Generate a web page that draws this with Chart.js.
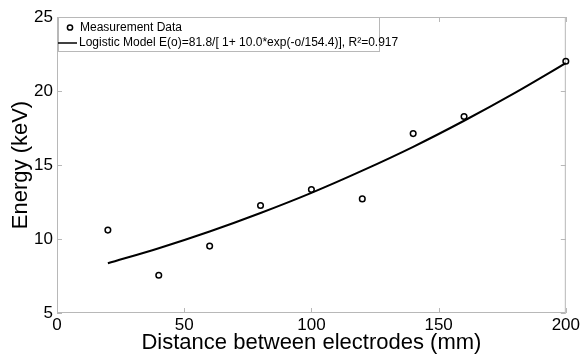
<!DOCTYPE html>
<html>
<head>
<meta charset="utf-8">
<script src="https://cdn.jsdelivr.net/npm/chart.js@4.4.1/dist/chart.umd.min.js"></script>
<style>
  html, body { margin: 0; padding: 0; background: #fff; }
</style>
</head>
<body>
<canvas id="myChart" width="582" height="356"></canvas>
<script>
// measured points
var distance = [20, 40, 60, 80, 100, 120, 140, 160, 200];
var energy = [10.60, 7.55, 9.52, 12.26, 13.34, 12.71, 17.12, 18.28, 22.01];

// fitted logistic curve
var modelDistance = [20, 40, 60, 80, 100, 120, 140, 160, 180, 200];
var modelEnergy = [8.36, 9.38, 10.51, 11.76, 13.12, 14.62, 16.23, 17.99, 19.87, 21.88];

var xTicks = [0, 50, 100, 150, 200];
var yTicks = [5, 10, 15, 20, 25];

var FONT = "'Liberation Sans', Arial, sans-serif";

function pairs(xs, ys) {
  var out = [];
  for (var i in xs) {
    out.push({ x: xs[i], y: ys[i] });
  }
  return out;
}

// box around the plot with small inward ticks
var framePlugin = {
  id: 'frame',
  beforeDatasetsDraw: function(chart) {
    var a = chart.chartArea;
    var ctx = chart.ctx;
    var xs = chart.scales.x, ys = chart.scales.y;
    ctx.save();
    ctx.strokeStyle = '#b8b8b8';
    ctx.lineWidth = 1;
    ctx.strokeRect(a.left + 0.5, a.top + 0.5, a.right - a.left - 1, a.bottom - a.top - 1);
    ctx.beginPath();
    xTicks.forEach(function(v) {
      var px = Math.round(xs.getPixelForValue(v)) + 0.5;
      ctx.moveTo(px, a.bottom); ctx.lineTo(px, a.bottom - 5);
      ctx.moveTo(px, a.top); ctx.lineTo(px, a.top + 5);
    });
    yTicks.forEach(function(v) {
      var py = Math.round(ys.getPixelForValue(v)) + 0.5;
      ctx.moveTo(a.left, py); ctx.lineTo(a.left + 5, py);
      ctx.moveTo(a.right, py); ctx.lineTo(a.right - 5, py);
    });
    ctx.stroke();
    ctx.restore();
  }
};

// legend box in the top left corner of the plot
var legendPlugin = {
  id: 'boxLegend',
  afterDraw: function(chart) {
    var ctx = chart.ctx;
    var a = chart.chartArea;
    var ds = chart.data.datasets;
    var left = a.left + 1, top = a.top, w = 321, h = 34;
    ctx.save();
    ctx.fillStyle = '#fff';
    ctx.fillRect(left, top, w, h);
    ctx.strokeStyle = '#b8b8b8';
    ctx.lineWidth = 1;
    ctx.strokeRect(left + 0.5, top + 0.5, w, h);

    ctx.font = '12px ' + FONT;
    ctx.fillStyle = '#000';
    ctx.textBaseline = 'middle';

    // row 1: marker
    ctx.beginPath();
    ctx.arc(left + 12, top + 10.5, 2.6, 0, Math.PI * 2);
    ctx.strokeStyle = '#000';
    ctx.lineWidth = 1.5;
    ctx.stroke();
    ctx.fillText(ds[0].label, left + 22, top + 11);

    // row 2: line
    ctx.beginPath();
    ctx.moveTo(left, top + 26);
    ctx.lineTo(left + 19, top + 26);
    ctx.lineWidth = 1.5;
    ctx.stroke();
    ctx.fillText(ds[1].label, left + 21, top + 26);
    ctx.restore();
  }
};

var chartdata = {
  datasets: [
    {
      label: 'Measurement Data',
      data: pairs(distance, energy),
      showLine: false,
      pointStyle: 'circle',
      pointRadius: 2.8,
      pointBorderWidth: 1.5,
      pointBorderColor: '#000',
      pointBackgroundColor: 'rgba(255,255,255,0)',
      clip: false
    },
    {
      label: 'Logistic Model E(o)=81.8/[ 1+ 10.0*exp(-o/154.4)], R\u00b2=0.917',
      data: pairs(modelDistance, modelEnergy),
      showLine: true,
      pointRadius: 0,
      borderColor: '#000',
      borderWidth: 2,
      cubicInterpolationMode: 'monotone'
    }
  ]
};

var ctx = document.getElementById('myChart');

var chart = new Chart(ctx, {
  type: 'scatter',
  data: chartdata,
  plugins: [framePlugin, legendPlugin],
  options: {
    responsive: false,
    animation: false,
    devicePixelRatio: 1,
    layout: { padding: { left: 0, right: 16, top: 17, bottom: 0 } },
    plugins: {
      legend: { display: false },
      tooltip: { enabled: false }
    },
    scales: {
      x: {
        type: 'linear',
        min: 0,
        max: 200,
        afterBuildTicks: function(scale) {
          scale.ticks = xTicks.map(function(v) { return { value: v }; });
        },
        afterFit: function(scale) { scale.height = 43; },
        grid: { display: false, drawTicks: false },
        border: { display: false },
        ticks: { color: '#000', padding: 2, font: { family: FONT, size: 17 }, maxRotation: 0 },
        title: {
          display: true,
          text: 'Distance between electrodes (mm)',
          color: '#000',
          font: { family: FONT, size: 22 },
          padding: 0
        }
      },
      y: {
        type: 'linear',
        min: 5,
        max: 25,
        afterBuildTicks: function(scale) {
          scale.ticks = yTicks.map(function(v) { return { value: v }; });
        },
        afterFit: function(scale) { scale.width = 57; },
        grid: { display: false, drawTicks: false },
        border: { display: false },
        ticks: { color: '#000', padding: 4, font: { family: FONT, size: 17 } },
        title: {
          display: true,
          text: 'Energy (keV)',
          color: '#000',
          font: { family: FONT, size: 22 },
          padding: { top: 8, bottom: 0 }
        }
      }
    }
  }
});
</script>
</body>
</html>
